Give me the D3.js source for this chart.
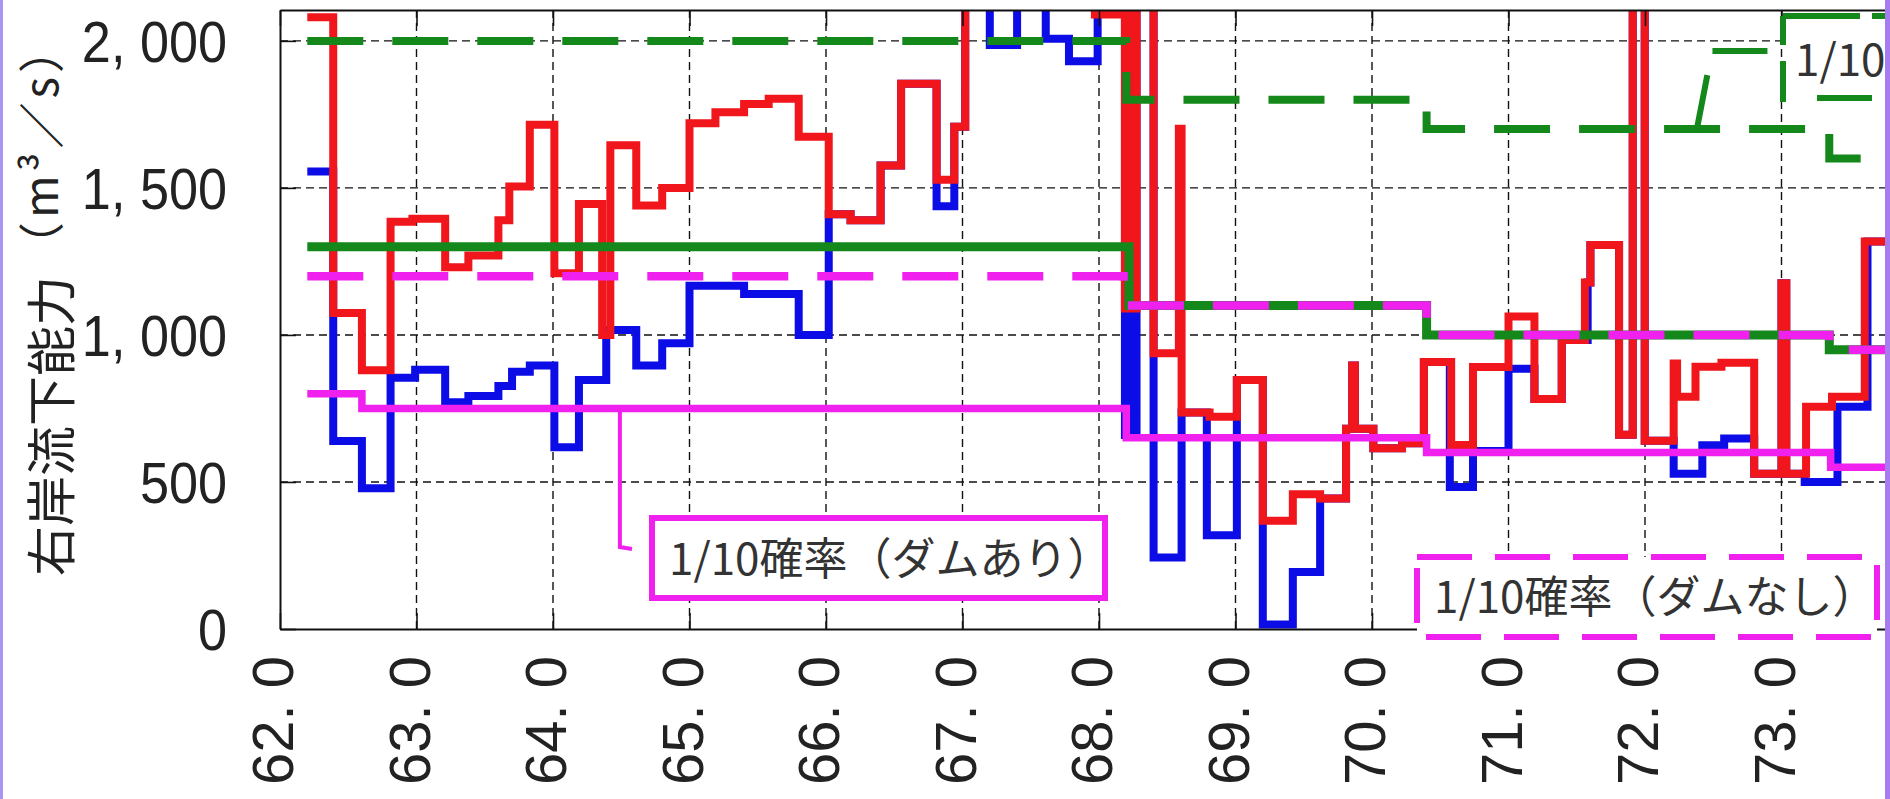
<!DOCTYPE html>
<html lang="ja">
<head>
<meta charset="utf-8">
<title>右岸流下能力</title>
<script src="https://cdn.jsdelivr.net/npm/d3@7"></script>
<style>
  html, body { margin: 0; padding: 0; background: #fff; overflow: hidden; }
  svg { display: block; }
</style>
</head>
<body>
<svg id="chart" width="1890" height="799"></svg>
<script>
// ---- axis ticks and labels ----
const kmTicks = [62, 63, 64, 65, 66, 67, 68, 69, 70, 71, 72, 73];
const kmTickLabels = ["62. 0", "63. 0", "64. 0", "65. 0", "66. 0", "67. 0",
                      "68. 0", "69. 0", "70. 0", "71. 0", "72. 0", "73. 0"];
const qTicks = [0, 500, 1000, 1500, 2000];
const qTickLabels = ["0", "500", "1, 000", "1, 500", "2, 000"];

// ---- step series: distance (km) where each level starts, and discharge (m3/s) ----
// levels above the axis maximum run off the top of the frame
const redKm = [62.2, 62.39, 62.6, 62.81, 62.97, 63.21, 63.38, 63.6, 63.68, 63.83, 64.01, 64.19,
  64.36, 64.42, 64.61, 64.8, 65.0, 65.19, 65.4, 65.58, 65.8, 66.02, 66.18, 66.4, 66.55, 66.81,
  66.94, 67.02, 67.97, 68.19, 68.22, 68.245, 68.275, 68.4, 68.585, 68.605, 68.81, 69.01, 69.2,
  69.42, 69.62, 69.81, 69.855, 69.875, 70.01, 70.22, 70.38, 70.58, 70.74, 71.0, 71.19, 71.39,
  71.56, 71.6, 71.81, 71.91, 71.998, 72.21, 72.235, 72.37, 72.56, 72.8, 73.0, 73.035, 73.18,
  73.37, 73.61, 73.8];
const redQ = [2080, 1075, 880, 1385, 1395, 1230, 1270, 1390, 1505, 1715, 1210, 1445,
  1000, 1645, 1440, 1500, 1720, 1757, 1785, 1803, 1674, 1410, 1390, 1576, 1854, 1528,
  1708, 2300, 2090, 1090, 2300, 1090, 2300, 938, 1701, 736, 722, 847, 368,
  458, 444, 681, 896, 681, 615, 632, 908, 626, 891, 1063, 782, 983,
  1178, 1306, 661, 2300, 640, 903, 790, 892, 905, 528, 1176, 528, 756,
  790, 1318, 1318];

const blueKm = [62.2, 62.39, 62.6, 62.81, 62.99, 63.21, 63.38, 63.6, 63.7, 63.83, 64.01, 64.19,
  64.39, 64.61, 64.8, 65.0, 65.4, 65.8, 66.02, 66.18, 66.4, 66.55, 66.81, 66.94, 67.02, 67.2,
  67.4, 67.61, 67.78, 67.99, 68.19, 68.22, 68.245, 68.275, 68.4, 68.605, 68.79, 69.01, 69.2,
  69.42, 69.62, 69.81, 69.855, 69.875, 70.01, 70.22, 70.38, 70.57, 70.74, 71.0, 71.19, 71.39,
  71.58, 71.6, 71.81, 71.91, 71.998, 72.21, 72.42, 72.58, 72.8, 73.0, 73.035, 73.17, 73.41,
  73.63, 73.8];
const blueQ = [1556, 639, 479, 854, 882, 771, 792, 826, 875, 896, 618, 847,
  1017, 896, 972, 1167, 1139, 1000, 1410, 1390, 1576, 1854, 1438, 1708, 2300, 1986,
  2300, 2007, 1931, 2300, 660, 2300, 660, 2300, 243, 736, 319, 847, 15,
  194, 444, 681, 896, 681, 615, 632, 908, 483, 605, 885, 782, 983,
  1178, 1306, 661, 2300, 640, 528, 625, 648, 528, 1176, 528, 500, 756,
  1318, 1318];

const greenSolidKm = [62.2, 68.22, 70.4, 73.35, 73.8];
const greenSolidQ  = [1300, 1100, 1000, 950, 950];
const greenDashKm  = [62.2, 68.2, 70.4, 73.35, 73.8];
const greenDashQ   = [2000, 1800, 1700, 1600, 1600];
const pinkDashKm   = [62.2, 68.18, 70.4, 73.35, 73.8];   // 1/10確率(ダムなし)
const pinkDashQ    = [1200, 1100, 1000, 950, 950];
const pinkSolidKm  = [62.2, 62.6, 68.2, 70.4, 73.36, 73.8]; // 1/10確率(ダムあり)
const pinkSolidQ   = [800, 750, 650, 600, 550, 550];

(function draw() {
  // ---- layout ----
  const W = 1890, H = 799;
  const pLeft = 280, pTop = 10, pBottom = 629, pRight = 1890.7, visibleRight = 1885;
  const RED = "#f0161b", BLUE = "#0c0ce6", GREEN = "#14881a", PINK = "#f020ee", INK = "#222";
  const NUM_FONT = "'Liberation Sans', Arial, sans-serif";
  const JP_FONT = "'Noto Sans CJK JP', 'Noto Sans', sans-serif";

  const svg = d3.select("#chart");
  svg.append("rect").attr("width", W).attr("height", H).attr("fill", "#fff");

  const x = d3.scaleLinear().domain([62, 73.8]).range([pLeft, pRight]);
  const y = d3.scaleLinear().domain([0, 2105]).range([pBottom, pTop]);

  svg.append("defs").append("clipPath").attr("id", "plotClip")
    .append("rect").attr("x", pLeft).attr("y", pTop)
    .attr("width", visibleRight - pLeft).attr("height", pBottom - pTop);

  // ---- dashed grid ----
  const grid = svg.append("g").attr("stroke", "#111").attr("stroke-width", 1.4)
    .attr("stroke-dasharray", "8,5");
  grid.selectAll("line.v").data(kmTicks.slice(1)).join("line").attr("class", "v")
    .attr("x1", d => x(d)).attr("x2", d => x(d)).attr("y1", pTop).attr("y2", pBottom);
  grid.selectAll("line.h").data(qTicks.slice(1)).join("line").attr("class", "h")
    .attr("x1", pLeft).attr("x2", pRight).attr("y1", d => y(d)).attr("y2", d => y(d));

  // ---- series ----
  const step = d3.line().x(d => x(d[0])).y(d => y(d[1])).curve(d3.curveStepAfter);
  const plotG = svg.append("g").attr("clip-path", "url(#plotClip)")
    .attr("fill", "none").attr("stroke-linejoin", "miter").attr("stroke-linecap", "butt");

  const series = [
    { km: blueKm, q: blueQ, color: BLUE, width: 8 },
    { km: redKm, q: redQ, color: RED, width: 8 },
    { km: greenSolidKm, q: greenSolidQ, color: GREEN, width: 9 },
    { km: greenDashKm, q: greenDashQ, color: GREEN, width: 8, dash: "56,29" },
    { km: pinkDashKm, q: pinkDashQ, color: PINK, width: 8.5, dash: "56,29" },
    { km: pinkSolidKm, q: pinkSolidQ, color: PINK, width: 7.5 }
  ];
  series.forEach(s => {
    plotG.append("path")
      .datum(d3.zip(s.km, s.q))
      .attr("d", step)
      .attr("stroke", s.color)
      .attr("stroke-width", s.width)
      .attr("stroke-dasharray", s.dash || null);
  });

  // ---- frame and inward ticks ----
  const axisStyle = g => {
    g.selectAll(".domain").attr("stroke", "#111").attr("stroke-width", 2);
    g.selectAll(".tick line").attr("stroke", "#111").attr("stroke-width", 1.6);
  };
  svg.append("g").attr("transform", `translate(0,${pBottom})`)
    .call(d3.axisBottom(x).tickValues(kmTicks).tickSizeInner(-16).tickSizeOuter(0).tickFormat(""))
    .call(axisStyle);
  svg.append("g").attr("transform", `translate(0,${pTop})`)
    .call(d3.axisTop(x).tickValues(kmTicks).tickSizeInner(-16).tickSizeOuter(0).tickFormat(""))
    .call(axisStyle);
  const yAxis = svg.append("g").attr("transform", `translate(${pLeft},0)`)
    .call(d3.axisLeft(y).tickValues(qTicks).tickSizeInner(-16).tickSizeOuter(0)
      .tickPadding(53).tickFormat((d, i) => qTickLabels[i]))
    .call(axisStyle);
  yAxis.selectAll(".tick text")
    .attr("font-family", NUM_FONT).attr("font-size", 58).attr("fill", INK)
    .attr("dy", "0.36em")
    .each(function () {
      // slightly condensed numerals
      const w = this.getComputedTextLength();
      d3.select(this).attr("textLength", w * 0.9).attr("lengthAdjust", "spacingAndGlyphs");
    });

  // ---- rotated distance labels ----
  svg.append("g").selectAll("text").data(kmTicks).join("text")
    .attr("transform", d => `translate(${x(d) + 13},656) rotate(-90)`)
    .attr("text-anchor", "end")
    .attr("font-family", NUM_FONT).attr("font-size", 58).attr("fill", INK)
    .text((d, i) => kmTickLabels[i]);

  // ---- y title ----
  svg.append("text")
    .attr("transform", "translate(70,576) rotate(-90)")
    .attr("font-family", JP_FONT).attr("font-size", 50).attr("fill", INK)
    .text("右岸流下能力");
  svg.append("text")
    .attr("transform", "translate(58,268) rotate(-90)")
    .attr("font-family", JP_FONT).attr("font-size", 46).attr("fill", INK)
    .attr("letter-spacing", 4)
    .text("（m³／s）");

  // ---- annotation boxes and leaders ----
  const notes = svg.append("g").attr("fill", "none");

  // leader: ダムあり label to its line
  notes.append("path")
    .attr("d", `M${x(64.49)},${y(750)} V547 L632,549`)
    .attr("stroke", PINK).attr("stroke-width", 4);
  // leader: upper label to the green dashed line
  notes.append("path")
    .attr("d", `M${x(72.38)},${y(1700)} L1712,51 H1783`)
    .attr("stroke", GREEN).attr("stroke-width", 6).attr("stroke-dasharray", "55,25");

  // box: 1/10確率(ダムあり)
  notes.append("rect").attr("x", 652).attr("y", 518).attr("width", 453).attr("height", 80)
    .attr("fill", "#fff").attr("stroke", PINK).attr("stroke-width", 6);
  notes.append("text").attr("x", 669).attr("y", 575)
    .attr("font-family", JP_FONT).attr("font-size", 44).attr("fill", "#333")
    .text("1/10確率（ダムあり）");

  // box: 1/10確率(ダムなし)
  notes.append("rect").attr("x", 1417).attr("y", 557).attr("width", 460).attr("height", 80)
    .attr("fill", "#fff").attr("stroke", PINK).attr("stroke-width", 6)
    .attr("stroke-dasharray", "55,23");
  notes.append("text").attr("x", 1434).attr("y", 613)
    .attr("font-family", JP_FONT).attr("font-size", 44).attr("fill", "#333")
    .text("1/10確率（ダムなし）");

  // box at the upper right, running past the frame edge
  const upper = notes.append("g").attr("clip-path", "url(#plotClip)");
  upper.append("rect").attr("x", 1783).attr("y", 16).attr("width", 160).attr("height", 82)
    .attr("fill", "#fff");
  upper.append("path").attr("d", "M1783,102 V16")
    .attr("stroke", GREEN).attr("stroke-width", 6).attr("stroke-dasharray", "41,16");
  upper.append("path").attr("d", "M1783,16 H1900")
    .attr("stroke", GREEN).attr("stroke-width", 6).attr("stroke-dasharray", "77,12");
  upper.append("path").attr("d", "M1817,98 H1900")
    .attr("stroke", GREEN).attr("stroke-width", 6).attr("stroke-dasharray", "55,22");
  upper.append("text").attr("x", 1795).attr("y", 76)
    .attr("font-family", JP_FONT).attr("font-size", 44).attr("fill", "#333")
    .text("1/10");

  // ---- page edge bands ----
  svg.append("rect").attr("x", 0).attr("y", 0).attr("width", 3).attr("height", H).attr("fill", "#a993f4");
  svg.append("rect").attr("x", visibleRight).attr("y", 0).attr("width", W - visibleRight).attr("height", H).attr("fill", "#a67cf0");
})();
</script>
</body>
</html>
